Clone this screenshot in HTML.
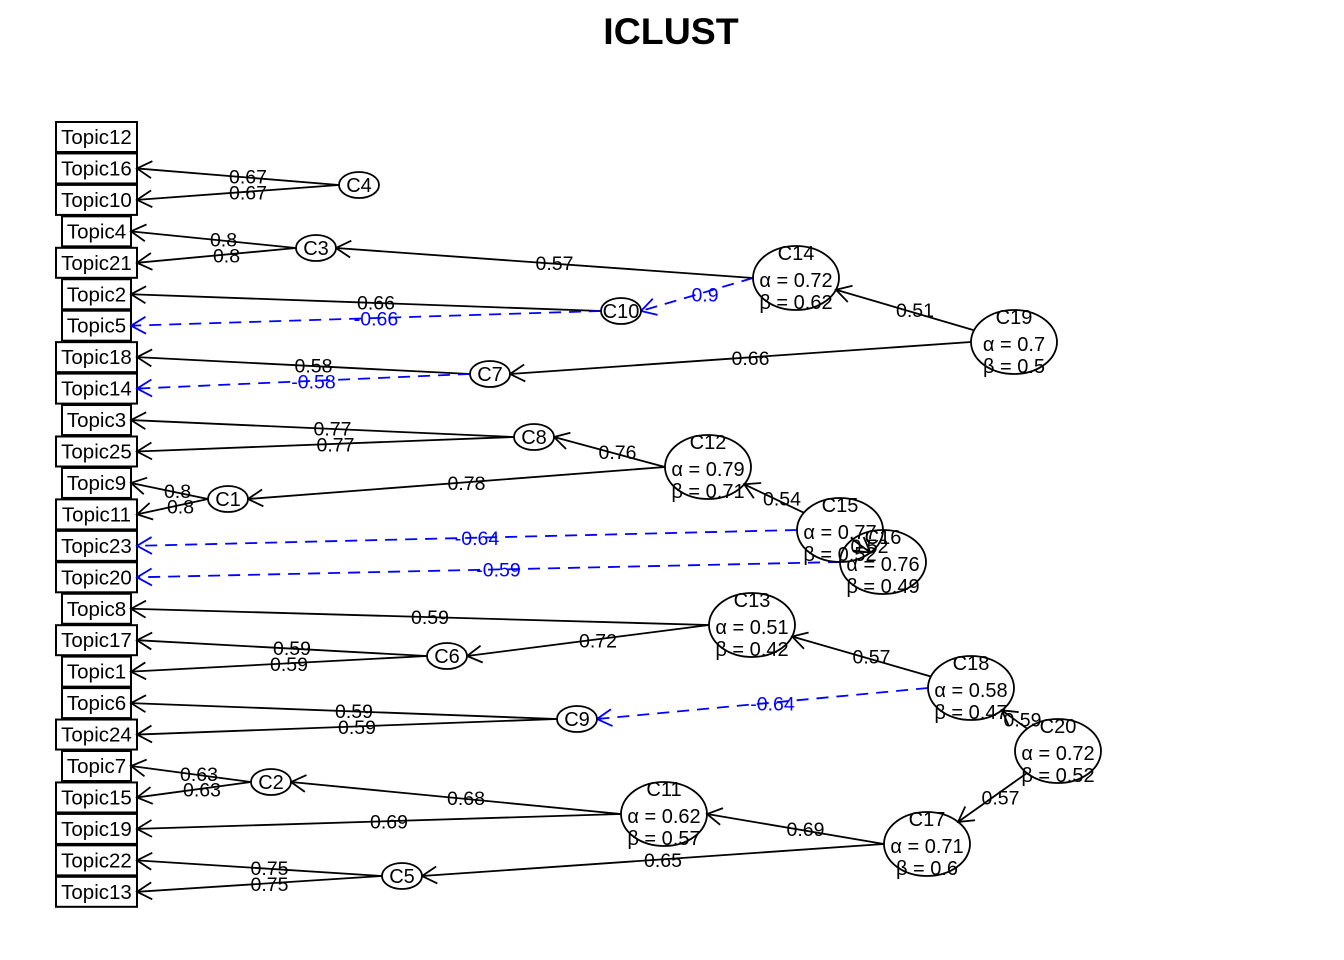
<!DOCTYPE html>
<html><head><meta charset="utf-8"><style>
html,body{margin:0;padding:0;background:#fff;}
svg{display:block;font-family:"Liberation Sans",sans-serif;}
</style></head><body>
<svg id="s" width="1344" height="960" viewBox="0 0 1344 960" xmlns="http://www.w3.org/2000/svg">
<rect width="1344" height="960" fill="#fff"/>
<text x="671" y="44" text-anchor="middle" font-size="37.5" font-weight="bold">ICLUST</text>
</svg>
<script>
var NS="http://www.w3.org/2000/svg",S=document.getElementById('s');
function el(t,a,txt){var e=document.createElementNS(NS,t);for(var k in a)e.setAttribute(k,a[k]);if(txt!=null)e.textContent=txt;S.appendChild(e);return e;}
var topics=[["Topic12",1],["Topic16",1],["Topic10",1],["Topic4",0],["Topic21",1],["Topic2",0],["Topic5",0],["Topic18",1],["Topic14",1],["Topic3",0],["Topic25",1],["Topic9",0],["Topic11",1],["Topic23",1],["Topic20",1],["Topic8",0],["Topic17",1],["Topic1",0],["Topic6",0],["Topic24",1],["Topic7",0],["Topic15",1],["Topic19",1],["Topic22",1],["Topic13",1]];
var N={};
topics.forEach(function(t,i){var y=137+i*31.45,w=t[1];var x0=w?56:62,x1=w?137:131;
N[t[0]]={t:1,x:x1,y:y};
el('rect',{x:x0,y:y-15,width:x1-x0,height:30,fill:'#fff',stroke:'#000','stroke-width':2});
el('text',{x:(x0+x1)/2,y:y+7,'text-anchor':'middle','font-size':20.5},t[0]);});
var small={C4:[359,185],C3:[316,248],C10:[621,311],C7:[490,374],C8:[534,437],C1:[228,499],C6:[447,656],C9:[577,719],C2:[271,782],C5:[402,876]};
var big={C14:[796,278,.72,.62],C19:[1014,342,.7,.5],C12:[708,467,.79,.71],C15:[840,530,.77,.52],C16:[883,562,.76,.49],C13:[752,625,.51,.42],C18:[971,688,.58,.47],C20:[1058,751,.72,.52],C11:[664,814,.62,.57],C17:[927,844,.71,.6]};
for(var k in small)N[k]={x:small[k][0],y:small[k][1],rx:20,ry:13};
for(var k in big)N[k]={x:big[k][0],y:big[k][1],rx:43,ry:32,a:big[k][2],b:big[k][3]};
var E=[["C4","Topic16","0.67"],["C4","Topic10","0.67"],["C3","Topic4","0.8"],["C3","Topic21","0.8"],["C14","C3","0.57"],["C10","Topic2","0.66"],["C10","Topic5","-0.66",1],["C14","C10","0.9",1],["C19","C14","0.51"],["C19","C7","0.66"],["C7","Topic18","0.58"],["C7","Topic14","-0.58",1],["C8","Topic3","0.77"],["C8","Topic25","0.77"],["C12","C8","0.76"],["C1","Topic9","0.8"],["C1","Topic11","0.8"],["C12","C1","0.78"],["C15","C12","0.54"],["C15","Topic23","-0.64",1],["C16","Topic20","-0.59",1],["C16","C15","0.52"],["C13","Topic8","0.59"],["C6","Topic17","0.59"],["C6","Topic1","0.59"],["C13","C6","0.72"],["C18","C13","0.57"],["C18","C9","-0.64",1],["C9","Topic6","0.59"],["C9","Topic24","0.59"],["C20","C18","0.59"],["C20","C17","0.57"],["C2","Topic7","0.63"],["C2","Topic15","0.63"],["C11","C2","0.68"],["C11","Topic19","0.69"],["C17","C11","0.69"],["C17","C5","0.65"],["C5","Topic22","0.75"],["C5","Topic13","0.75"]];
function bnd(n,tx,ty){if(n.t)return [n.x,n.y];var dx=tx-n.x,dy=ty-n.y;var s=1/Math.sqrt(dx*dx/(n.rx*n.rx)+dy*dy/(n.ry*n.ry));return [n.x+dx*s,n.y+dy*s];}
E.forEach(function(e){var p=N[e[0]],c=N[e[1]];
var st=c.t?[p.x-p.rx,p.y]:bnd(p,c.x,c.y);
var en=c.t?[c.x,c.y]:bnd(c,p.x,p.y);
if(!c.t&&Math.abs(p.y-c.y)<40&&Math.abs(p.x-c.x)>150){st=[p.x-p.rx,p.y];en=[c.x+c.rx,c.y];}
var col=e[3]?'#00f':'#000';
el('line',{x1:st[0],y1:st[1],x2:en[0],y2:en[1],stroke:col,'stroke-width':1.8,'stroke-dasharray':e[3]?'12,8':'none'});
var ang=Math.atan2(st[1]-en[1],st[0]-en[0]),L=17,A=0.52;
var d='M'+(en[0]+L*Math.cos(ang+A))+','+(en[1]+L*Math.sin(ang+A))+' L'+en[0]+','+en[1]+' L'+(en[0]+L*Math.cos(ang-A))+','+(en[1]+L*Math.sin(ang-A));
el('path',{d:d,fill:'none',stroke:col,'stroke-width':1.8});
var off=Math.abs(st[0]-en[0])>120?10:8;
el('text',{x:(st[0]+en[0])/2+off,y:(st[1]+en[1])/2+7,'text-anchor':'middle','font-size':19.5,fill:col},e[2]);});
for(var k in small){var n=N[k];el('ellipse',{cx:n.x,cy:n.y,rx:n.rx,ry:n.ry,fill:'#fff',stroke:'#000','stroke-width':1.8});el('text',{x:n.x,y:n.y+7,'text-anchor':'middle','font-size':20},k);}
for(var k in big){var n=N[k];el('ellipse',{cx:n.x,cy:n.y,rx:n.rx,ry:n.ry,fill:'none',stroke:'#000','stroke-width':1.8});
el('text',{x:n.x,y:n.y-18,'text-anchor':'middle','font-size':20},k);
el('text',{x:n.x,y:n.y+9,'text-anchor':'middle','font-size':20},'\u03b1 = '+n.a);
el('text',{x:n.x,y:n.y+31,'text-anchor':'middle','font-size':20},'\u03b2 = '+n.b);}
</script>
</body></html>
